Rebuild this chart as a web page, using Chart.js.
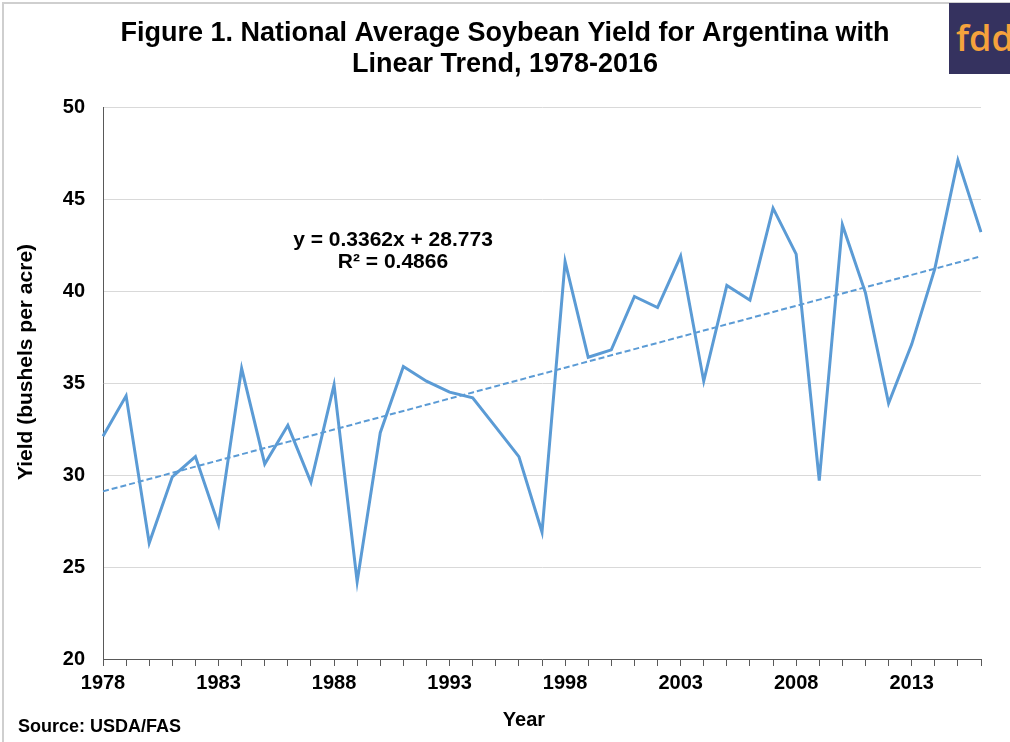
<!DOCTYPE html>
<html>
<head>
<meta charset="utf-8">
<title>National Average Soybean Yield for Argentina</title>
<script src="https://cdn.jsdelivr.net/npm/chart.js@4.4.1/dist/chart.umd.min.js"></script>
<style>
  html, body { margin: 0; padding: 0; background: #ffffff; }
  #wrap { position: relative; width: 1010px; height: 742px; overflow: hidden; }
  #chart { position: absolute; left: 0; top: 0; }
  #logo {
    position: absolute; left: 949px; top: 3px; width: 61px; height: 71px;
    background: #35325f; overflow: hidden;
  }
  #logo span {
    position: absolute; left: 7px; top: 15px;
    font-family: "Open Sans", "Noto Sans", sans-serif; font-weight: 600;
    font-size: 36px; line-height: 40px; color: #f5a23c; letter-spacing: 0px;
  }
</style>
</head>
<body>
<div id="wrap">
  <canvas id="chart" width="1010" height="742"></canvas>
  <div id="logo"><span>fdd</span></div>
</div>
<script>
// Marketing years
const years = [1978, 1979, 1980, 1981, 1982, 1983, 1984, 1985, 1986, 1987,
               1988, 1989, 1990, 1991, 1992, 1993, 1994, 1995, 1996, 1997,
               1998, 1999, 2000, 2001, 2002, 2003, 2004, 2005, 2006, 2007,
               2008, 2009, 2010, 2011, 2012, 2013, 2014, 2015, 2016];

// National average soybean yield, bushels per acre
const yields = [32.1, 34.3, 26.3, 29.9, 31.0, 27.3, 35.8, 30.6, 32.7, 29.6,
                34.9, 24.2, 32.3, 35.9, 35.1, 34.5, 34.2, 32.6, 31.0, 26.9,
                41.6, 36.4, 36.8, 39.7, 39.1, 41.9, 35.1, 40.3, 39.5, 44.5,
                42.0, 29.7, 43.6, 39.9, 33.9, 37.1, 41.2, 47.1, 43.2];

// Fitted linear trend, x = 1 for the first year
const trendSlope = 0.3362;
const trendIntercept = 28.773;
const trendR2 = 0.4866;

// Axis tick values
const yTicks = [20, 25, 30, 35, 40, 45, 50];
const xLabelEvery = 5;

const trend = years.map((_, i) => trendSlope * (i + 1) + trendIntercept);

const FONT = '"Liberation Sans", Arial, Helvetica, sans-serif';
const BLUE = '#5b9bd5';
const AXIS = '#595959';

const textPlugin = {
  id: 'chartText',
  afterDraw(chart) {
    const ctx = chart.ctx;
    ctx.save();

    // outer frame (left and top edges)
    ctx.fillStyle = '#cfcfcf';
    ctx.fillRect(2, 2, 2, 742);
    ctx.fillRect(2, 2, 1008, 2);

    ctx.fillStyle = '#000000';
    ctx.textAlign = 'center';
    ctx.textBaseline = 'middle';

    // title
    ctx.font = 'bold 27px ' + FONT;
    ctx.fillText('Figure 1. National Average Soybean Yield for Argentina with', 505, 34);
    ctx.fillText('Linear Trend, 1978-2016', 505, 65);

    // trend equation
    ctx.font = 'bold 21px ' + FONT;
    const eq = 'y = ' + trendSlope.toFixed(4) + 'x + ' + trendIntercept.toFixed(3);
    ctx.fillText(eq, 393, 240);
    ctx.fillText('R\u00B2 = ' + trendR2.toFixed(4), 393, 262);

    // axis titles
    ctx.font = 'bold 20px ' + FONT;
    ctx.fillText('Year', 524, 720);
    ctx.save();
    ctx.translate(26, 362);
    ctx.rotate(-Math.PI / 2);
    ctx.font = 'bold 21px ' + FONT;
    ctx.fillText('Yield (bushels per acre)', 0, 0);
    ctx.restore();

    // source note
    ctx.textAlign = 'left';
    ctx.font = 'bold 18px ' + FONT;
    ctx.fillText('Source: USDA/FAS', 18, 727);

    ctx.restore();
  }
};

new Chart(document.getElementById('chart'), {
  type: 'line',
  data: {
    labels: years,
    datasets: [
      {
        label: 'Trend',
        data: trend,
        borderColor: BLUE,
        borderWidth: 2,
        borderDash: [6, 3],
        pointRadius: 0,
        fill: false,
        tension: 0,
        order: 0
      },
      {
        label: 'Yield',
        data: yields,
        borderColor: BLUE,
        borderWidth: 3,
        pointRadius: 0,
        fill: false,
        tension: 0,
        borderJoinStyle: 'miter',
        order: 1
      }
    ]
  },
  options: {
    responsive: false,
    devicePixelRatio: 1,
    animation: false,
    layout: { padding: { top: 107, right: 29, bottom: 0, left: 0 } },
    plugins: {
      legend: { display: false },
      tooltip: { enabled: false },
      title: { display: false }
    },
    scales: {
      x: {
        type: 'category',
        offset: false,
        afterFit(scale) { scale.height = 83; },
        grid: {
          display: true,
          drawOnChartArea: false,
          drawTicks: true,
          tickLength: 7,
          color: AXIS,
          lineWidth: 1
        },
        border: { display: true, color: AXIS, width: 1 },
        ticks: {
          autoSkip: false,
          maxRotation: 0,
          minRotation: 0,
          padding: 5,
          color: '#000000',
          font: { family: FONT, size: 20, weight: 'bold' },
          callback(value, index) {
            return index % xLabelEvery === 0 ? String(years[index]) : '';
          }
        }
      },
      y: {
        type: 'linear',
        min: yTicks[0],
        max: yTicks[yTicks.length - 1],
        afterFit(scale) { scale.width = 103; },
        afterBuildTicks(scale) { scale.ticks = yTicks.map(v => ({ value: v })); },
        grid: {
          display: true,
          drawTicks: false,
          color: '#d9d9d9',
          lineWidth: 1
        },
        border: { display: true, color: AXIS, width: 1 },
        ticks: {
          padding: 18,
          color: '#000000',
          font: { family: FONT, size: 20, weight: 'bold' }
        }
      }
    }
  },
  plugins: [textPlugin]
});
</script>
</body>
</html>
